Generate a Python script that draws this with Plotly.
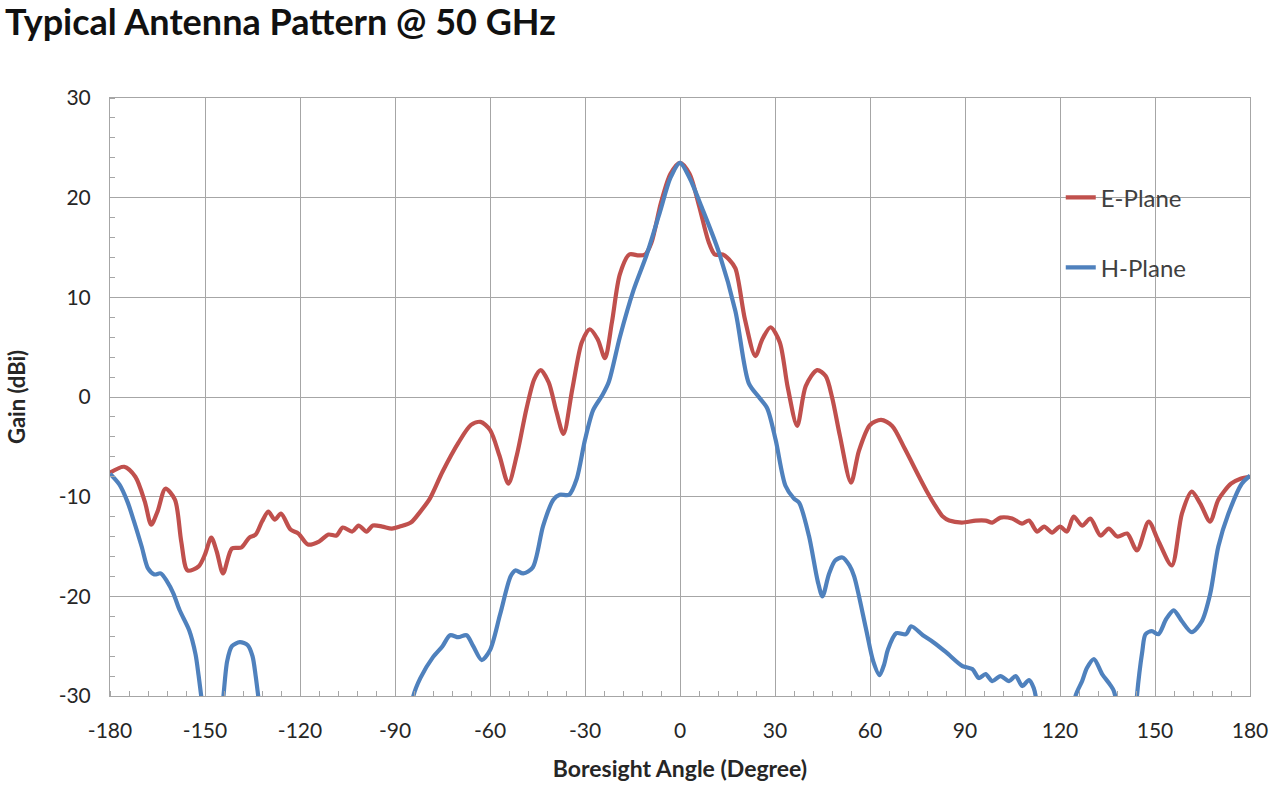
import plotly.graph_objects as go

# ---------------- data ----------------
e_angle = [-180, -175.5, -172, -169, -167, -165, -162.5, -159.5, -157.5, -155.5, -152, -150,
           -148, -146.3, -144.3, -141.5, -138.5, -136, -134, -132, -130, -128, -126, -123,
           -120.5, -117.5, -114, -111, -108.5, -106.5, -103.5, -101.5, -99, -97, -94, -91,
           -88.5, -85, -82, -79, -75, -70, -66, -63, -60, -57, -54.2, -51.5, -48.5, -46,
           -44, -41.5, -39, -36.8, -34, -31, -28.5, -26, -23.7, -21.5, -19, -16, -13, -11,
           -9, -6, -3, 0, 3, 6, 9, 11, 13.5, 15.5, 17.5, 20.5, 23.8, 26, 28.6, 31.5, 34,
           37, 39.7, 43.3, 46, 48, 50.5, 54, 56.5, 60, 63.5, 67, 71, 75.5, 78, 80.8, 83,
           85, 89, 93.4, 96.5, 98.6, 101.2, 104.9, 108, 110.2, 112.8, 115, 117.5, 120,
           122.2, 124.3, 127, 129.6, 132.8, 135.4, 138.1, 141.2, 144.3, 148, 151, 155.3,
           158.5, 161.6, 164.3, 167.4, 170, 174, 177, 180]
e_gain = [-7.6, -7.0, -8.0, -10.5, -12.8, -11.5, -9.2, -10.3, -14.5, -17.4, -17.0, -15.8,
          -14.1, -15.5, -17.7, -15.2, -15.1, -14.1, -13.8, -12.5, -11.5, -12.3, -11.7, -13.3,
          -13.7, -14.8, -14.5, -13.8, -13.9, -13.1, -13.5, -12.9, -13.5, -12.9, -13.0, -13.2,
          -13.0, -12.6, -11.5, -10.2, -7.5, -4.6, -2.8, -2.5, -3.3, -5.9, -8.7, -5.8, -1.2, 1.8,
          2.7, 1.5, -1.5, -3.7, 0.8, 5.5, 6.8, 5.8, 3.9, 7.5, 12.3, 14.3, 14.2, 14.3,
          15.5, 19.5, 22.4, 23.5, 22.4, 19.2, 15.6, 14.3, 14.3, 13.8, 12.9, 7.8, 4.1, 5.8, 7.0, 5.5, 1.0,
          -2.9, 1.1, 2.7, 2.1, 0.0, -3.9, -8.6, -5.4, -2.8, -2.3, -2.9, -5.2, -8.0, -9.5, -11.0, -12.0,
          -12.4, -12.6, -12.4, -12.4, -12.6, -12.1, -12.2, -12.7, -12.4, -13.5, -13.0, -13.6, -13.0,
          -13.5, -12.0, -12.9, -12.2, -13.9, -13.2, -14.0, -13.7, -15.4, -12.5, -14.4, -16.9,
          -11.7, -9.5, -10.7, -12.5, -10.3, -8.7, -8.2, -8.0]

# None marks where the H-plane trace leaves the chart below -30 dBi
h_angle = [-180, -177, -174.5, -172.5, -170, -168, -166, -164, -162, -160, -158, -155, -153,
           -152, -151, -150, None,
           -146, -144.5, -143, -141.5, -139, -136.5, -135, -134, -133, -132, None,
           -85.5, -84.2, -82, -78, -75, -72.6, -70, -67.4, -65.3, -62.6, -60, -56.8, -53.5,
           -52, -49.5, -46.5, -43.2, -40, -38, -35, -32.6, -30, -27.4, -24.5, -22.5, -19,
           -14.7, -10.5, -6.3, -3, 0, 3, 6.9, 12.2, 17.5, 21.7, 24.9, 27.5, 30.2, 33.3, 36,
           37.6, 40.7, 43.5, 45, 47, 49, 51.3, 53.5, 55, 58.7, 61, 63, 64.5, 65.6, 68.3, 71.4,
           73, 76.7, 80, 84, 89.2, 92.3, 94.4, 96.5, 98.6, 101.2, 103.9, 106, 108.1, 110.2,
           111.7, 112.8, 113.5, None,
           124, 124.9, 127, 128.5, 130.7, 133.3, 135.9, 137, 138, 139, None,
           143.5, 144.3, 146, 147, 149, 151.1, 153.5, 155.9, 158.5, 161.6, 164.8, 167.4, 170,
           173.2, 177.4, 180]
h_gain = [-7.7, -8.8, -10.5, -12.4, -15.0, -17.2, -17.8, -17.7, -18.5, -19.7, -21.4, -23.4, -25.8,
          -28.0, -30.5, -33.0, None,
          -34.0, -31.0, -26.5, -25.0, -24.6, -24.9, -26.0, -28.0, -30.5, -33.0, None,
          -34.0, -30.0, -28.2, -26.1, -25.0, -23.9, -24.1, -23.9, -25.0, -26.4, -25.4, -21.8, -18.0,
          -17.4, -17.7, -17.1, -12.9, -10.3, -9.8, -9.8, -8.2, -4.3, -1.3, 0.2, 1.5, 6.0,
          10.7, 14.3, 18.6, 22.0, 23.5, 22.0, 19.0, 14.6, 8.6, 1.4, 0.0, -1.1, -4.3, -8.9, -10.2,
          -10.6, -13.9, -18.5, -20.0, -17.8, -16.4, -16.1, -16.9, -18.0, -23.2, -26.5, -27.9, -26.8, -25.4, -23.7, -23.8,
          -23.0, -23.9, -24.6, -25.6, -27.0, -27.3, -28.2, -27.8, -28.5, -28.0, -28.5, -28.0, -29.0, -28.4,
          -29.2, -31.0, -34.0, None,
          -34.0, -30.0, -28.5, -27.2, -26.3, -27.8, -28.9, -29.5, -31.0, -34.0, None,
          -34.0, -30.0, -25.5, -23.8, -23.5, -23.8, -22.3, -21.4, -22.5, -23.6, -22.5, -19.8, -15.0,
          -11.7, -8.7, -7.9]

x_ticks = [-180, -150, -120, -90, -60, -30, 0, 30, 60, 90, 120, 150, 180]
y_ticks = [-30, -20, -10, 0, 10, 20, 30]

# ---------------- figure ----------------
FONT = "Lato"
GRID = "#A6A6A6"
TXT = "#262626"

fig = go.Figure()
fig.add_trace(go.Scatter(
    x=e_angle, y=e_gain, name="E-Plane", mode="lines",
    line=dict(color="#C0504D", width=4.2, shape="spline", smoothing=0.8),
    legend="legend"))
fig.add_trace(go.Scatter(
    x=h_angle, y=h_gain, name="H-Plane", mode="lines", connectgaps=False,
    line=dict(color="#4F81BD", width=4.2, shape="spline", smoothing=0.8),
    legend="legend2"))

axis_common = dict(
    showgrid=True, gridcolor=GRID, gridwidth=1,
    showline=True, linecolor=GRID, linewidth=1, mirror=True,
    zeroline=False, ticks="", tickfont=dict(family=FONT, size=21, color=TXT),
)

fig.update_xaxes(
    range=[-180, 180], tickvals=x_ticks, ticktext=[str(v) for v in x_ticks],
    minor=dict(dtick=6, tick0=-180, ticks="inside", ticklen=5, tickcolor=GRID, showgrid=False),
    ticklabelstandoff=16,
    title=dict(text="<b>Boresight Angle (Degree)</b>", font=dict(family=FONT, size=23, color=TXT),
               standoff=19),
    **axis_common)
fig.update_yaxes(
    range=[-30, 30], tickvals=y_ticks, ticktext=[str(v) for v in y_ticks],
    minor=dict(dtick=2, tick0=-30, ticks="inside", ticklen=5, tickcolor=GRID, showgrid=False),
    ticklabelstandoff=14,
    title=dict(text="<b>Gain (dBi)</b>", font=dict(family=FONT, size=22, color=TXT), standoff=26),
    **axis_common)

legend_common = dict(font=dict(family=FONT, size=24, color="#404040"),
                     bgcolor="rgba(0,0,0,0)", borderwidth=0,
                     xanchor="left", yanchor="middle", itemwidth=30)

fig.update_layout(
    width=1280, height=797,
    margin=dict(l=110, r=28, t=98, b=101),
    paper_bgcolor="white", plot_bgcolor="white",
    title=dict(text="<b>Typical Antenna Pattern @ 50 GHz</b>",
               font=dict(family=FONT, size=36, color="#111111"),
               x=0.004, xanchor="left", xref="container", y=0.972, yanchor="middle", yref="container"),
    legend=dict(x=0.834, y=0.833, **legend_common),
    legend2=dict(x=0.834, y=0.716, **legend_common),
    showlegend=True,
)

fig.write_html("out.html")
